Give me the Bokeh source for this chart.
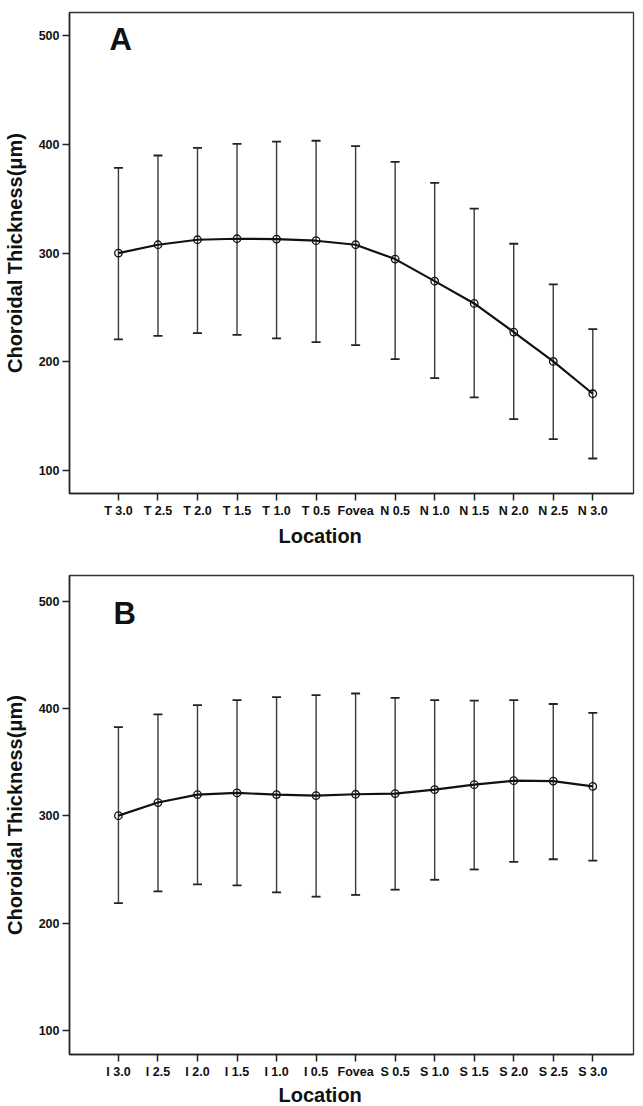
from bokeh.plotting import figure
from bokeh.layouts import column
from bokeh.models import FixedTicker, Label, Title
from bokeh.embed import file_html
from bokeh.resources import INLINE

# ---------------- data ----------------
locations_a = ["T 3.0", "T 2.5", "T 2.0", "T 1.5", "T 1.0", "T 0.5", "Fovea",
               "N 0.5", "N 1.0", "N 1.5", "N 2.0", "N 2.5", "N 3.0"]
mean_a = [300, 307.7, 312.3, 313.2, 312.9, 311.4, 307.7, 294.5, 274.2, 253.7, 227.3, 200.3, 170.6]
upper_a = [378.5, 389.8, 396.9, 400.6, 402.5, 403.4, 398.5, 384.0, 364.6, 341.0, 308.6, 271.2, 230.0]
lower_a = [220.6, 223.9, 226.4, 224.8, 221.5, 218.1, 215.3, 202.5, 185.0, 167.2, 147.2, 128.8, 111.0]

locations_b = ["I 3.0", "I 2.5", "I 2.0", "I 1.5", "I 1.0", "I 0.5", "Fovea",
               "S 0.5", "S 1.0", "S 1.5", "S 2.0", "S 2.5", "S 3.0"]
mean_b = [300.3, 312.5, 319.9, 321.4, 319.9, 319.0, 320.2, 320.8, 324.5, 329.1, 332.8, 332.5, 327.5]
upper_b = [382.6, 394.6, 403.2, 407.9, 410.6, 412.5, 414.0, 410.0, 407.9, 407.3, 407.9, 404.2, 395.9]
lower_b = [218.8, 229.8, 236.3, 235.4, 228.9, 224.9, 226.5, 231.4, 240.6, 250.2, 257.2, 259.7, 258.5]

y_ticks = [100, 200, 300, 400, 500]

MAIN_FONT = "'Liberation Sans', Arial, sans-serif"


def make_panel(letter, cats, mean, upper, lower, height, border_top, border_bottom,
               y_range, letter_x, letter_y, title_standoff):
    n = len(cats)
    xs = list(range(n))
    p = figure(width=635, height=height, output_backend="svg", toolbar_location=None,
               x_range=(-1.238, 13.03), y_range=y_range,
               min_border_left=65, min_border_right=2,
               min_border_top=border_top, min_border_bottom=border_bottom)
    p.background_fill_color = "white"
    p.border_fill_color = "white"
    p.outline_line_color = "#333333"
    p.outline_line_width = 1.3
    p.xgrid.visible = False
    p.ygrid.visible = False

    # error bars
    p.segment(x0=xs, y0=lower, x1=xs, y1=upper, line_color="#3a3a3a", line_width=1.4)
    p.scatter(x=xs, y=upper, marker="dash", size=9, line_color="#222222", line_width=1.8)
    p.scatter(x=xs, y=lower, marker="dash", size=9, line_color="#222222", line_width=1.8)
    # mean line + hollow markers
    p.line(x=xs, y=mean, line_color="#111111", line_width=2.2)
    p.scatter(x=xs, y=mean, marker="circle", size=7.5, line_color="#111111",
              fill_color=None, line_width=1.3)

    # axes
    xa = p.xaxis[0]
    xa.ticker = FixedTicker(ticks=xs)
    xa.major_label_overrides = {i: c for i, c in enumerate(cats)}
    ya = p.yaxis[0]
    ya.ticker = FixedTicker(ticks=y_ticks)
    for ax in (xa, ya):
        ax.axis_line_color = "#222222"
        ax.axis_line_width = 1.6
        ax.major_tick_line_color = "#222222"
        ax.major_tick_line_width = 1.5
        ax.major_tick_out = 7
        ax.major_tick_in = 0
        ax.minor_tick_line_color = None
        ax.major_label_text_font = MAIN_FONT
        ax.major_label_text_font_style = "bold"
        ax.major_label_text_font_size = "12.5px"
        ax.major_label_text_color = "#111111"
        ax.major_label_standoff = 3
    ya.axis_label = "Choroidal Thickness(\u03bcm)"
    ya.axis_label_text_font = MAIN_FONT
    ya.axis_label_text_font_style = "bold"
    ya.axis_label_text_font_size = "20px"
    ya.axis_label_text_color = "#111111"
    ya.axis_label_standoff = 10

    # x-axis title (sits left of centre, as in the original)
    p.add_layout(Title(text="Location", align="left", offset=209,
                       standoff=title_standoff, text_font=MAIN_FONT,
                       text_font_style="bold", text_font_size="20px",
                       text_color="#111111"), "below")
    # panel letter
    p.add_layout(Label(x=letter_x, y=letter_y, text=letter, text_font=MAIN_FONT,
                       text_font_style="bold", text_font_size="31px",
                       text_color="#111111", text_align="left",
                       text_baseline="alphabetic"))
    return p


pa = make_panel("A", locations_a, mean_a, upper_a, lower_a, height=550,
                border_top=12, border_bottom=57, y_range=(78.8, 521.4),
                letter_x=-0.226, letter_y=496.6, title_standoff=5)
pb = make_panel("B", locations_b, mean_b, upper_b, lower_b, height=556,
                border_top=25, border_bottom=50, y_range=(78.0, 523.8),
                letter_x=-0.126, letter_y=488.3, title_standoff=1)

layout = column(pa, pb, spacing=0)
open("out.html", "w").write(file_html(layout, INLINE))
